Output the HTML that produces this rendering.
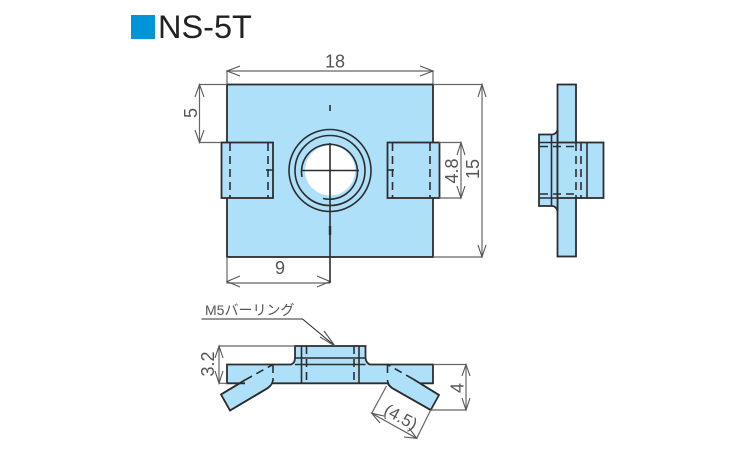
<!DOCTYPE html>
<html><head><meta charset="utf-8"><style>
html,body{margin:0;padding:0;background:#fff}
svg{display:block}
text{font-family:"Liberation Sans","Noto Sans CJK JP",sans-serif;fill:#555}
.s{fill:#aee0fa;stroke:#2d2d2d;stroke-width:1.8;stroke-linejoin:miter}
.l{fill:none;stroke:#2d2d2d;stroke-width:1.6}
.d{fill:none;stroke:#2d2d2d;stroke-width:1.6;stroke-dasharray:8 5}
.dim{fill:none;stroke:#666;stroke-width:1.2}
.a{fill:none;stroke:#555;stroke-width:1.1}
</style></head><body>
<svg width="750" height="450" viewBox="0 0 750 450" xmlns="http://www.w3.org/2000/svg">
<rect x="131" y="15" width="24" height="24" fill="#0095d9"/>
<text x="158" y="38" font-size="32.500" style="fill:#222">NS-5T</text>

<!-- top view -->
<rect class="s" x="227" y="84.500" width="206" height="172.500"/>
<rect class="s" x="221.500" y="142.500" width="51.500" height="55.500"/>
<rect class="s" x="387.500" y="142.500" width="52" height="55.500"/>
<path class="d" d="M230 143V198M268 143V198M392.500 143V198M430 143V198"/>
<path class="l" d="M266 170H273M387.500 170H394"/>
<circle class="l" cx="330" cy="170.500" r="41"/>
<circle class="l" cx="330" cy="170.500" r="35"/>
<path class="l" d="M302 177A28 27.500 0 1 1 323 198.500"/>
<path class="l" d="M330 105V111"/>
<path d="M330 226V235" stroke="#2d2d2d" stroke-width="2.400"/>

<!-- dims top -->
<path class="dim" d="M227 84V71H433V84M199.500 84.500H227M199.500 142.500H221M199.500 84.500V142.500"/>
<path class="a" d="M240 66L227 71L240 76M420 66L433 71L420 76"/>
<path class="a" d="M195 97L199.500 84.500L204 97M195 130L199.500 142.500L204 130"/>
<text x="335" y="67.500" font-size="18" text-anchor="middle">18</text>
<text transform="translate(197,113) rotate(-90)" font-size="18" text-anchor="middle">5</text>
<path class="dim" d="M227 257V283H330M439 142.500H461M439 198H461M461 142.500V198M433 84.500H482M433 257H482M482 84.500V257"/>
<path class="a" d="M240 276L227 281.500L240 287M317 276L330 281.500L317 287"/>
<path class="a" d="M457 155L461 142.500L465 155M457 186L461 198L465 186"/>
<path class="a" d="M478 97L482 84.500L486 97M478 245L482 257L486 245"/>
<text x="280" y="274" font-size="18" text-anchor="middle">9</text>
<text transform="translate(458,171) rotate(-90)" font-size="18" text-anchor="middle">4.8</text>
<text transform="translate(479,169) rotate(-90)" font-size="18" text-anchor="middle">15</text>

<!-- side view -->
<rect class="s" x="557.500" y="84.500" width="18.500" height="172"/>
<path class="s" d="M539 134.500H552Q556 134.500 557.500 130V211Q556 206 552 206H539Z"/>
<rect class="s" x="557.500" y="142.500" width="46" height="55.500"/>
<path class="l" d="M539 142.500H557.500M539 198H557.500M551.500 135V206M587 143V198"/>
<path class="d" d="M540 146.500H576M540 194H576M576 143V198M581 143V198" stroke-dasharray="7 4"/>

<!-- bottom view -->
<path class="s" d="M221 394.500L245 380H273V381Q271 386 267 388.500L230 410.500Z"/>
<path class="s" d="M439 395L413 379H387.500V383Q389 386 392 388L430.700 410Z"/>
<path class="s" d="M227 383.300V364.500H291Q295 363 295 358V346H365.500V358Q366 363 370 364.500H433V383.300H227Z"/>
<path d="M245 383.300H272M389 383.300H420" stroke="#aee0fa" stroke-width="3" fill="none"/>
<path class="l" d="M273 380Q272 385 268 388M387.500 380Q388 385 392 388"/>
<path class="l" d="M295 358H365.500M295 364.500H365.500M301.500 346V383M359 346V383"/>
<path class="d" d="M306.500 346V383M354 346V383"/>
<path class="d" d="M273 365V381M387.500 365V376M245 380L273 364.500M413 379L387.500 364.500" stroke-dasharray="7 4"/>
<path d="M245 380L221 394.500M413 379L439 395M268 388L230 410.500M392 388L430.700 410" stroke="#2d2d2d" stroke-width="1.800" fill="none"/>

<!-- dims bottom -->
<text x="205" y="315" font-size="14">M5バーリング</text>
<path class="l" d="M201.500 319H302.500L335 346" style="stroke-width:1.100"/>
<path class="a" d="M324 331L335 346L320 337"/>
<path class="dim" d="M219 346H295M219 383.300H227M219 346V383.300M433 364.500H466M431 410H466M466 364.500V410M386.500 386L371.700 413.300M430.700 410L416.700 438.300M371.700 413.300L416.700 438.300"/>
<path class="a" d="M215 358L219 346L223 358M215 371L219 383.300L223 371"/>
<path class="a" d="M462 376L466 364.500L470 376M462 398L466 410L470 398"/>
<path class="a" d="M384 416L371.700 413.300L380 423M404 437L416.700 438.300L409 428"/>
<text transform="translate(214,364) rotate(-90)" font-size="18" text-anchor="middle">3.2</text>
<text transform="translate(463.500,388) rotate(-90)" font-size="18" text-anchor="middle">4</text>
<text transform="translate(398,422) rotate(29)" font-size="17" text-anchor="middle">(4.5)</text>

<!-- hole painted last -->
<rect x="305" y="145.500" width="50" height="50" rx="25" ry="25" fill="#ffffff"/>
<path d="M301 170.500H359M330 143V283" fill="none" stroke="#2d2d2d" stroke-width="1.600"/>
</svg>
</body></html>
